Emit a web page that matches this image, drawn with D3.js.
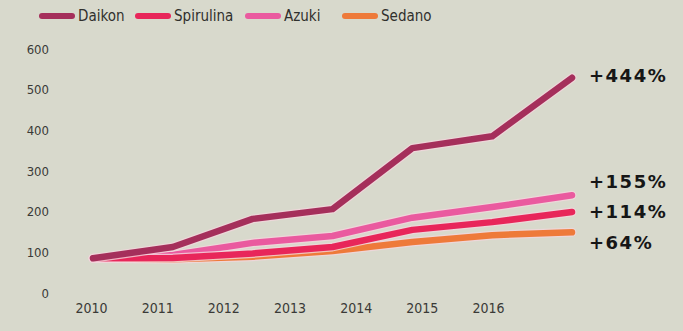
<!DOCTYPE html>
<html>
<head>
<meta charset="utf-8">
<script src="https://cdn.jsdelivr.net/npm/d3@7"></script>
<style>
  html, body { margin: 0; padding: 0; background: #d8d9cc; }
  svg { display: block; }
  .cond { font-family: 'DejaVu Sans', sans-serif; font-stretch: condensed; }
</style>
</head>
<body>
<svg id="chart" width="683" height="331"></svg>
<script>
// Index values (2010 = 100) for four crops
const years = ["2010", "2011", "2012", "2013", "2014", "2015", "2016"];
const daikon    = [100, 128, 197, 221, 371, 400, 544];
const spirulina = [100, 101, 112, 128, 170, 189, 214];
const azuki     = [100, 108, 138, 155, 200, 226, 255];
const sedano    = [100,  98, 104, 118, 140, 157, 164];
const seriesNames = ["Daikon", "Spirulina", "Azuki", "Sedano"];
const seriesColors = ["#a52f5b", "#e8265a", "#ea5a9f", "#ee7a3a"];
const yTicks = [0, 100, 200, 300, 400, 500, 600];
const changeLabels = ["+444%", "+114%", "+155%", "+64%"];

const svg = d3.select("#chart");

const series = [daikon, spirulina, azuki, sedano].map((values, i) => ({
  name: seriesNames[i], values, color: seriesColors[i], label: changeLabels[i]
}));

// Scales
const x = d3.scalePoint().domain(years).range([93, 572]);
const xLabels = d3.scalePoint().domain(years).range([91, 488]);
const y = d3.scaleLinear().domain([0, 600]).range([299, 55]);

// Y axis (labels only)
const yAxis = d3.axisLeft(y).tickValues(yTicks).tickSize(0).tickPadding(0);
const gy = svg.append("g")
  .attr("transform", "translate(49,-6)")
  .call(yAxis);
gy.select(".domain").remove();
gy.selectAll("text")
  .attr("class", "cond")
  .attr("fill", "#3a3a37")
  .style("font-size", "13px");

// X axis (labels only)
const xAxis = d3.axisBottom(xLabels).tickSize(0).tickPadding(0);
const gx = svg.append("g")
  .attr("transform", "translate(0,303)")
  .call(xAxis);
gx.select(".domain").remove();
gx.selectAll("text")
  .attr("class", "cond")
  .attr("fill", "#3a3a37")
  .style("font-size", "14px");

// Lines
const line = d3.line()
  .x((d, i) => x(years[i]))
  .y(d => y(d));

const drawOrder = ["Sedano", "Azuki", "Spirulina", "Daikon"];
const gLines = svg.append("g");
drawOrder.forEach(name => {
  const s = series.find(d => d.name === name);
  gLines.append("path")
    .datum(s.values)
    .attr("d", line)
    .attr("fill", "none")
    .attr("stroke", "#f2d6dc")
    .attr("stroke-opacity", 0.8)
    .attr("stroke-width", 9)
    .attr("stroke-linejoin", "round")
    .attr("stroke-linecap", "round");
  gLines.append("path")
    .datum(s.values)
    .attr("d", line)
    .attr("fill", "none")
    .attr("stroke", s.color)
    .attr("stroke-width", 6.5)
    .attr("stroke-linejoin", "round")
    .attr("stroke-linecap", "round");
});

// End-of-line change labels
const labelOffsets = { Daikon: -2, Azuki: -14, Spirulina: 0, Sedano: 10 };
svg.append("g").selectAll("text")
  .data(series)
  .join("text")
  .attr("x", 589)
  .attr("y", d => y(d.values[d.values.length - 1]) + labelOffsets[d.name])
  .attr("dy", "0.36em")
  .attr("fill", "#161616")
  .style("font-family", "'DejaVu Sans', sans-serif")
  .style("font-weight", "bold")
  .style("font-size", "18px")
  .style("letter-spacing", "1.5px")
  .text(d => d.label);

// Legend
const legendX = [42, 138, 248, 345];
const legend = svg.append("g").selectAll("g")
  .data(series)
  .join("g")
  .attr("transform", (d, i) => `translate(${legendX[i]},16)`);
legend.append("line")
  .attr("x1", 0).attr("x2", 30)
  .attr("stroke", d => d.color)
  .attr("stroke-width", 6)
  .attr("stroke-linecap", "round");
legend.append("text")
  .attr("class", "cond")
  .attr("x", 36)
  .attr("dy", "0.36em")
  .attr("fill", "#30302d")
  .style("font-size", "15px")
  .text(d => d.name);
</script>
</body>
</html>
